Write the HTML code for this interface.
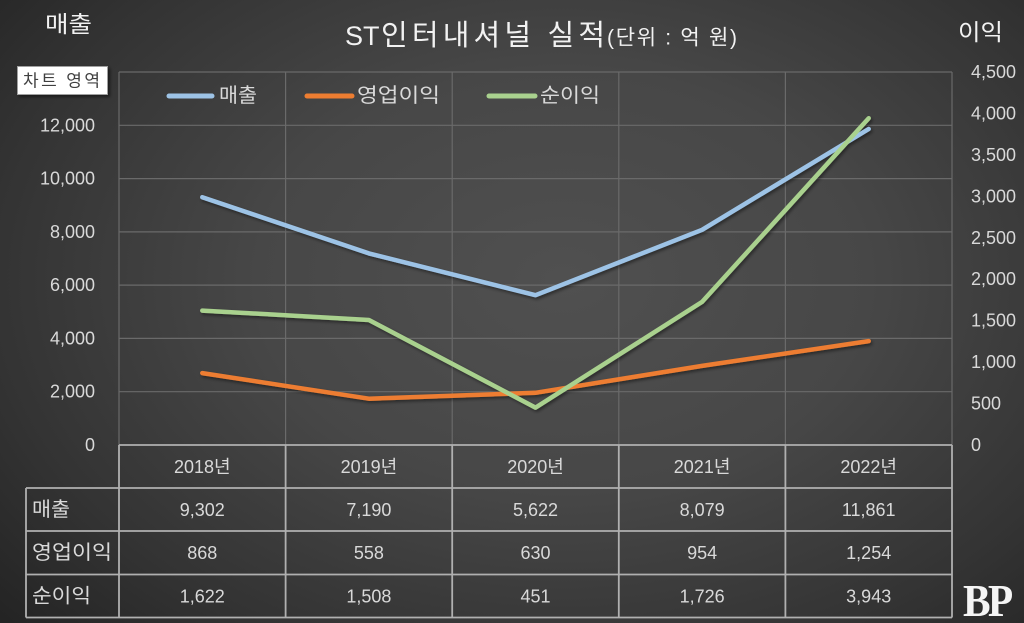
<!DOCTYPE html>
<html>
<head>
<meta charset="utf-8">
<style>
html,body{margin:0;padding:0;}
body{width:1024px;height:623px;overflow:hidden;
background:radial-gradient(ellipse 75% 85% at 55% 45%, #505050 0%, #474747 40%, #333333 75%, #222222 100%);}
svg{display:block;}
text{font-family:"Liberation Sans","Noto Sans CJK KR",sans-serif;}
</style>
</head>
<body>
<svg width="1024" height="623" viewBox="0 0 1024 623" xmlns="http://www.w3.org/2000/svg">
<defs>
<filter id="sh" x="-10%" y="-10%" width="120%" height="120%">
<feGaussianBlur in="SourceAlpha" stdDeviation="1.5"/>
<feOffset dx="1.5" dy="2" result="o"/>
<feComponentTransfer><feFuncA type="linear" slope="0.45"/></feComponentTransfer>
<feMerge><feMergeNode/><feMergeNode in="SourceGraphic"/></feMerge>
</filter>
<filter id="bs" x="-20%" y="-20%" width="140%" height="140%">
<feGaussianBlur in="SourceAlpha" stdDeviation="1.5"/>
<feOffset dx="2" dy="2"/>
<feComponentTransfer><feFuncA type="linear" slope="0.5"/></feComponentTransfer>
<feMerge><feMergeNode/><feMergeNode in="SourceGraphic"/></feMerge>
</filter>
</defs>

<!-- titles -->
<text x="45" y="24" font-size="23" fill="#f2f2f2" dominant-baseline="central" textLength="47" lengthAdjust="spacingAndGlyphs">매출</text>
<text x="958" y="32" font-size="23" fill="#f2f2f2" dominant-baseline="central" textLength="45" lengthAdjust="spacingAndGlyphs">이익</text>
<text x="345" y="36" font-size="27" fill="#f2f2f2" dominant-baseline="central">ST</text>
<text x="381" y="36" font-size="29" fill="#f2f2f2" dominant-baseline="central" textLength="224" lengthAdjust="spacing">인터내셔널 실적</text>
<text x="607" y="38" font-size="21" fill="#f2f2f2" dominant-baseline="central" textLength="130" lengthAdjust="spacing">(단위 : 억 원)</text>

<!-- gridlines -->
<g stroke="#6a6a6a" stroke-width="1.2">
<line x1="119" y1="72" x2="952" y2="72"/>
<line x1="119" y1="125.3" x2="952" y2="125.3"/>
<line x1="119" y1="178.6" x2="952" y2="178.6"/>
<line x1="119" y1="231.9" x2="952" y2="231.9"/>
<line x1="119" y1="285.1" x2="952" y2="285.1"/>
<line x1="119" y1="338.4" x2="952" y2="338.4"/>
<line x1="119" y1="391.7" x2="952" y2="391.7"/>
<line x1="119" y1="72" x2="119" y2="445"/>
<line x1="285.6" y1="72" x2="285.6" y2="445"/>
<line x1="452.2" y1="72" x2="452.2" y2="445"/>
<line x1="618.8" y1="72" x2="618.8" y2="445"/>
<line x1="785.4" y1="72" x2="785.4" y2="445"/>
<line x1="952" y1="72" x2="952" y2="445"/>
</g>

<!-- left axis labels -->
<g font-size="18" fill="#d9d9d9" text-anchor="end" dominant-baseline="central">
<text x="95" y="125.3">12,000</text>
<text x="95" y="178.6">10,000</text>
<text x="95" y="231.9">8,000</text>
<text x="95" y="285.1">6,000</text>
<text x="95" y="338.4">4,000</text>
<text x="95" y="391.7">2,000</text>
<text x="95" y="445">0</text>
</g>
<!-- right axis labels -->
<g font-size="18" fill="#d9d9d9" dominant-baseline="central">
<text x="971" y="72">4,500</text>
<text x="971" y="113.4">4,000</text>
<text x="971" y="154.9">3,500</text>
<text x="971" y="196.3">3,000</text>
<text x="971" y="237.8">2,500</text>
<text x="971" y="279.2">2,000</text>
<text x="971" y="320.7">1,500</text>
<text x="971" y="362.1">1,000</text>
<text x="971" y="403.6">500</text>
<text x="971" y="445">0</text>
</g>

<!-- legend -->
<g stroke-width="5" stroke-linecap="round">
<line x1="169" y1="96" x2="212" y2="96" stroke="#9DC3E6"/>
<line x1="307" y1="96" x2="352" y2="96" stroke="#ED7D31"/>
<line x1="489" y1="96" x2="535" y2="96" stroke="#A9D18E"/>
</g>
<g font-size="20" fill="#d9d9d9" dominant-baseline="central">
<text x="219" y="96" textLength="38" lengthAdjust="spacingAndGlyphs">매출</text>
<text x="357" y="96" textLength="83" lengthAdjust="spacingAndGlyphs">영업이익</text>
<text x="540" y="96" textLength="60" lengthAdjust="spacingAndGlyphs">순이익</text>
</g>

<!-- series -->
<g fill="none" stroke-width="4.5" stroke-linejoin="round" stroke-linecap="round" filter="url(#sh)">
<polyline stroke="#9DC3E6" points="202.3,197.2 368.9,253.4 535.5,295.2 702.1,229.8 868.7,129"/>
<polyline stroke="#ED7D31" points="202.3,373.1 368.9,398.7 535.5,392.8 702.1,365.9 868.7,341.1"/>
<polyline stroke="#A9D18E" points="202.3,310.6 368.9,320 535.5,407.6 702.1,301.9 868.7,118.2"/>
</g>

<!-- chart area tooltip -->
<rect x="17.5" y="66.5" width="90" height="28" fill="#ffffff" stroke="#a0a0a0" stroke-width="1" filter="url(#bs)"/>
<text x="23" y="81" font-size="17" fill="#404040" dominant-baseline="central" textLength="77" lengthAdjust="spacing">차트 영역</text>

<!-- data table -->
<g stroke="#b0b0b0" stroke-width="1.8" fill="none">
<line x1="119" y1="445" x2="952" y2="445"/>
<line x1="26" y1="488" x2="952" y2="488"/>
<line x1="26" y1="531" x2="952" y2="531"/>
<line x1="26" y1="574.5" x2="952" y2="574.5"/>
<line x1="26" y1="617.5" x2="952" y2="617.5"/>
<line x1="26" y1="488" x2="26" y2="617.5"/>
<line x1="119" y1="445" x2="119" y2="617.5"/>
<line x1="285.6" y1="445" x2="285.6" y2="617.5"/>
<line x1="452.2" y1="445" x2="452.2" y2="617.5"/>
<line x1="618.8" y1="445" x2="618.8" y2="617.5"/>
<line x1="785.4" y1="445" x2="785.4" y2="617.5"/>
<line x1="952" y1="445" x2="952" y2="617.5"/>
</g>

<g font-size="18" fill="#d9d9d9" text-anchor="middle" dominant-baseline="central">
<text x="202.3" y="467">2018년</text>
<text x="368.9" y="467">2019년</text>
<text x="535.5" y="467">2020년</text>
<text x="702.1" y="467">2021년</text>
<text x="868.7" y="467">2022년</text>

<text x="202.3" y="510">9,302</text>
<text x="368.9" y="510">7,190</text>
<text x="535.5" y="510">5,622</text>
<text x="702.1" y="510">8,079</text>
<text x="868.7" y="510">11,861</text>

<text x="202.3" y="553">868</text>
<text x="368.9" y="553">558</text>
<text x="535.5" y="553">630</text>
<text x="702.1" y="553">954</text>
<text x="868.7" y="553">1,254</text>

<text x="202.3" y="596.5">1,622</text>
<text x="368.9" y="596.5">1,508</text>
<text x="535.5" y="596.5">451</text>
<text x="702.1" y="596.5">1,726</text>
<text x="868.7" y="596.5">3,943</text>
</g>

<g font-size="20" fill="#d9d9d9" dominant-baseline="central">
<text x="32" y="510" textLength="38" lengthAdjust="spacingAndGlyphs">매출</text>
<text x="32" y="553" textLength="80" lengthAdjust="spacingAndGlyphs">영업이익</text>
<text x="32" y="596.5" textLength="59" lengthAdjust="spacingAndGlyphs">순이익</text>
</g>

<!-- BP logo -->
<text x="0" y="0" style="font-family:'Liberation Serif',serif;font-weight:bold;font-size:46px;letter-spacing:-3px" fill="#f5f5f5" transform="translate(963,616) scale(0.9,1)">BP</text>
</svg>
</body>
</html>
